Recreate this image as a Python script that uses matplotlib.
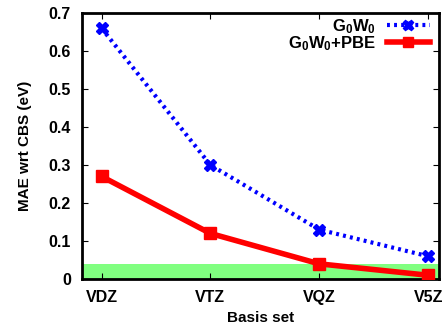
from matplotlib import pyplot as plt
from matplotlib.patches import Rectangle

basis = ['VDZ', 'VTZ', 'VQZ', 'V5Z']
x_pos = [1, 2, 3, 4]
g0w0 = [0.66, 0.30, 0.13, 0.06]
g0w0_pbe = [0.27, 0.12, 0.04, 0.01]
chem_acc = 0.04

plt.rcParams['font.family'] = ['Liberation Sans', 'DejaVu Sans']
plt.rcParams['font.weight'] = 'bold'
plt.rcParams['mathtext.fontset'] = 'custom'
plt.rcParams['mathtext.bf'] = 'Liberation Sans:bold'
plt.rcParams['mathtext.rm'] = 'Liberation Sans:bold'
plt.rcParams['mathtext.default'] = 'bf'

fig = plt.figure(figsize=(4.48, 3.26), dpi=100)
ax = fig.add_axes([0.183, 0.144, 0.797, 0.816])

# chemical accuracy band
ax.add_patch(Rectangle((0.82, 0), 3.28, chem_acc, color='#80ff80', zorder=1, lw=0))

ax.plot(x_pos, g0w0, color='blue', ls=(0, (0.7, 1)), lw=3, marker='X', ms=8.5,
        label=r'G$_0$W$_0$', zorder=3)
ax.plot(x_pos, g0w0_pbe, color='red', ls='-', lw=4, marker='s', ms=8,
        label=r'G$_0$W$_0$+PBE', zorder=4)

ax.set_xlim(0.82, 4.1)
ax.set_ylim(0, 0.7)
ax.set_xticks(x_pos)
ax.set_xticklabels(basis)
ax.set_yticks([0, 0.1, 0.2, 0.3, 0.4, 0.5, 0.6, 0.7])
ax.set_yticklabels(['0', '0.1', '0.2', '0.3', '0.4', '0.5', '0.6', '0.7'])
ax.tick_params(direction='in', top=True, right=True, length=4, labelsize=11.5, pad=8)
for s in ax.spines.values():
    s.set_linewidth(2)

ax.set_xlabel('Basis set', fontsize=11, fontweight='bold')
ax.set_ylabel('MAE wrt CBS (eV)', fontsize=11, fontweight='bold', labelpad=12)

leg = ax.legend(loc='upper right', bbox_to_anchor=(0.975, 0.985), markerfirst=False,
                frameon=False, fontsize=12, handlelength=2.6, borderaxespad=0.0,
                borderpad=0.0, labelspacing=-0.1, handletextpad=0.65, markerscale=0.85)
for t in leg.get_texts():
    t.set_fontweight('bold')

fig.savefig('out.png', dpi=100)
